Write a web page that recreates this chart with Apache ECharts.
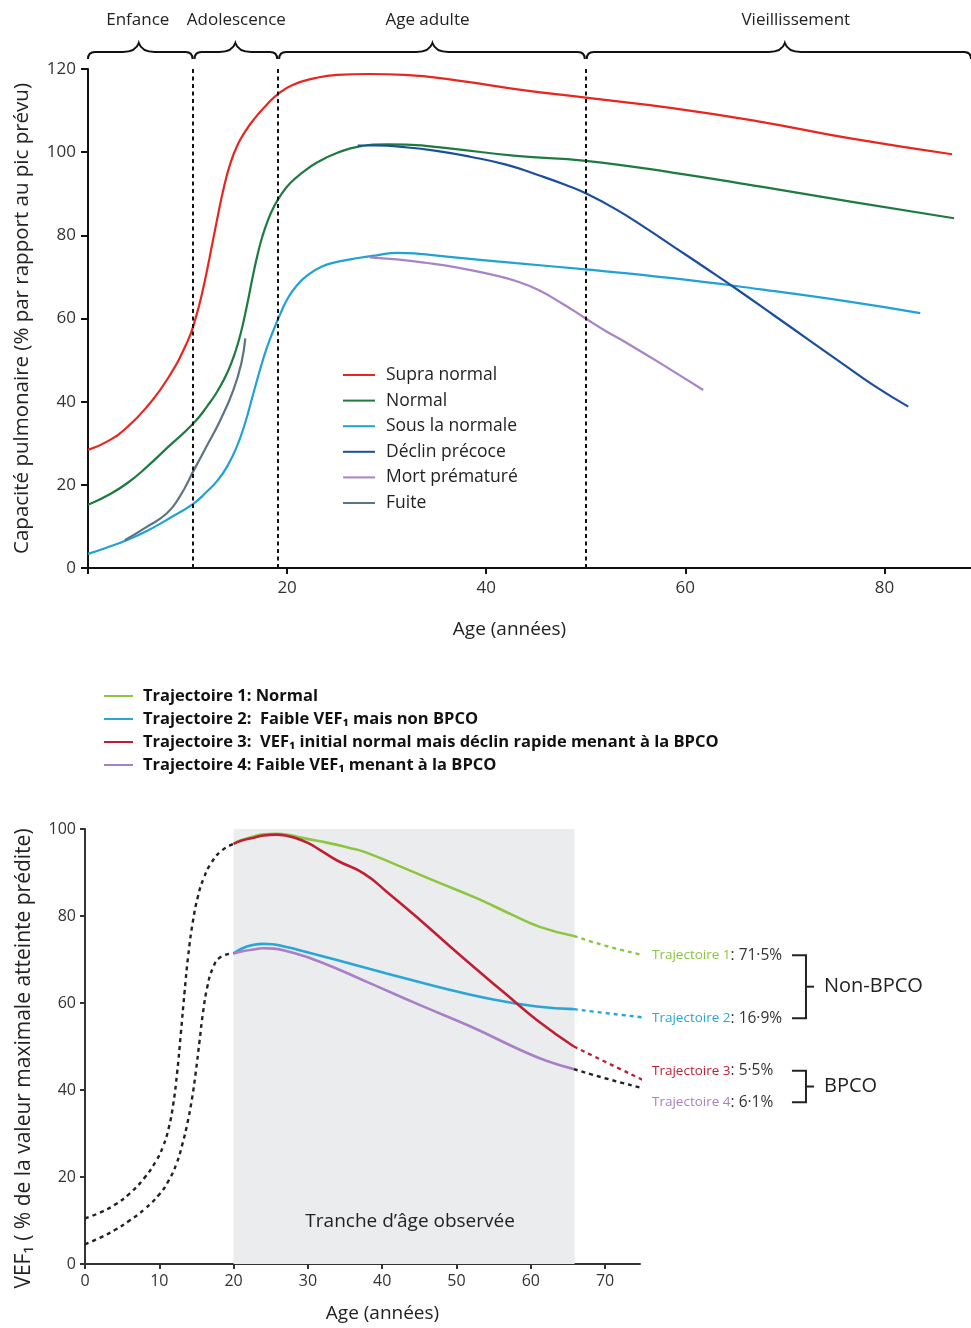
<!DOCTYPE html>
<html>
<head>
<meta charset="utf-8">
<script src="https://cdn.jsdelivr.net/npm/echarts@6/dist/echarts.min.js"></script>
<style>
  html, body { margin: 0; padding: 0; background: #fff; }
  #chart { width: 971px; height: 1328px; }
</style>
</head>
<body>
<div id="chart"></div>
<script>
  // ---- panneau du haut : capacité pulmonaire selon l'âge
  var phaseNames = ['Enfance', 'Adolescence', 'Age adulte', 'Vieillissement']
  var phaseBounds = [[0, 10.5], [10.7, 19], [19.2, 49.9], [50.1, 88.7]]
  var phaseCusp = [5.1, 14.8, 34.6, 70]
  var phaseTextAt = [5.0, 14.9, 34.1, 71.1]
  var phaseDividers = [10.5, 19.1, 50]
  var topTicks = [0, 20, 40, 60, 80]

  var supraNormal = [[0, 28.4], [2, 30.5], [4, 34], [6, 39], [8, 45.5], [10, 54.5], [10.8, 60], [11.5, 66.5],
    [12.2, 74.5], [12.9, 83], [13.6, 91], [14.3, 97.3], [15, 101.6], [15.8, 105], [16.7, 108], [17.8, 111],
    [19.1, 114], [20.5, 116.1], [22.8, 117.8], [25, 118.6], [28.2, 118.8], [31.8, 118.6], [37.2, 117.2],
    [43.5, 115], [50, 113.1], [58.7, 110.6], [67.6, 107.3], [76.6, 103.3], [86.8, 99.5]]
  var normal = [[0, 15.2], [2, 17.5], [4, 20.5], [6, 24.5], [8, 29], [10.6, 34.8], [12, 39], [13, 42.5],
    [14, 47], [14.8, 52], [15.4, 57], [16, 63.5], [16.5, 69.5], [17, 75], [17.5, 79.6], [18.1, 83.8],
    [18.7, 87], [19.4, 89.8], [20.3, 92.5], [21.5, 95], [23, 97.5], [25, 99.8], [27.3, 101.4], [30, 101.9],
    [32, 101.8], [36.3, 100.9], [43, 99.1], [50, 97.9], [58.7, 95.1], [67.6, 91.7], [76.6, 88.1], [87, 84.1]]
  var sousNormale = [[0, 3.4], [2, 5], [4, 6.8], [6, 9], [8, 11.7], [10.6, 15.5], [12, 18.5], [13, 21],
    [14, 24.5], [15, 29.5], [15.8, 35], [16.5, 41], [17.2, 47], [17.9, 52.5], [18.6, 57], [19.3, 61],
    [20.1, 65], [21, 68], [22, 70.3], [23.5, 72.5], [25, 73.6], [27.3, 74.6], [29, 75.2], [31.1, 75.8],
    [33, 75.6], [36.3, 74.8], [43, 73.3], [50, 71.8], [58.7, 69.7], [67.6, 67], [76.6, 64], [83.6, 61.3]]
  var declinPrecoce = [[27.1, 101.6], [29, 101.6], [31.8, 101.2], [35, 100.3], [38.4, 98.9], [42, 97],
    [45.2, 94.5], [48, 92.1], [50, 90.1], [53, 86.3], [56, 81.8], [59, 77], [62, 72.2], [65.5, 66.5],
    [69, 60.6], [72.5, 54.7], [76, 48.8], [79, 43.8], [82.4, 38.8]]
  var mortPremature = [[28.3, 74.7], [31, 74.2], [33.9, 73.4], [37, 72.3], [40.7, 70.5], [43, 69],
    [45.2, 66.9], [47.5, 63.8], [50, 60], [52, 57], [54.2, 54], [58, 48.5], [61.8, 42.8]]
  var fuite = [[3.7, 6.7], [5.9, 9.9], [7.9, 13.1], [9.2, 17.1], [10.65, 23.6], [11.9, 29.2], [13.3, 35.6],
    [14.6, 42.8], [15.4, 49.2], [15.8, 55.2]]

  // ---- panneau du bas : trajectoires du VEF1
  var bottomTicks = [0, 10, 20, 30, 40, 50, 60, 70]
  var observedRange = [20, 65.9]
  var traj1 = [[20, 96.6], [21, 97.4], [22.7, 98.3], [24, 98.8], [25.8, 98.9], [27.5, 98.6], [29.4, 97.9],
    [33, 96.7], [35.5, 95.7], [37.5, 94.8], [42, 91.7], [47.3, 87.9], [52.7, 84.1], [57.6, 80.2],
    [61.2, 77.5], [65.8, 75.4]]
  var traj2 = [[20, 71.4], [21.2, 72.6], [22.5, 73.3], [24, 73.6], [25.2, 73.5], [26.8, 73], [28.5, 72.3],
    [33.9, 69.9], [40.6, 66.8], [47.3, 63.8], [54.1, 61.1], [60.8, 59.2], [65.8, 58.6]]
  var traj3 = [[20, 96.6], [21, 97.3], [22.7, 98], [24, 98.5], [25.8, 98.7], [27, 98.5], [28, 98.1],
    [30, 96.8], [31.6, 95.2], [34, 92.7], [37.5, 89.8], [40.6, 85.6], [45.1, 79.1], [49.6, 72.3],
    [54.1, 65.7], [56.6, 62.1], [60.8, 56.1], [65.8, 50]]
  var traj4 = [[20, 71.4], [21.5, 72], [22.7, 72.3], [24, 72.6], [25.4, 72.5], [27.2, 71.9], [31.6, 69.5],
    [38.4, 64.5], [45.1, 59.5], [51.9, 54.6], [58.6, 49.2], [62, 46.8], [65.8, 44.8]]
  var traj1Ext = [[65.8, 75.4], [70, 73.2], [75.1, 71]]
  var traj2Ext = [[65.8, 58.6], [70, 57.7], [75.1, 56.7]]
  var traj3Ext = [[65.8, 50], [70, 46.5], [75.1, 42.3]]
  var traj4Ext = [[65.8, 44.8], [70, 42.7], [75.1, 40.4]]
  var earlyHigh = [[0, 10.5], [2, 11.8], [4, 13.6], [6, 16.2], [8, 19.8], [9.5, 23.5], [10.5, 27],
    [11.3, 31.5], [11.9, 37], [12.4, 44], [12.9, 53], [13.4, 62.5], [13.9, 71], [14.5, 78.5], [15.2, 84.5],
    [16, 88.8], [17, 92.2], [18.3, 94.9], [20, 96.6]]
  var earlyLow = [[0, 4.5], [2, 6], [4, 7.8], [6, 10], [8, 12.6], [10, 16], [11.3, 19.3], [12.3, 23],
    [13.1, 27.5], [13.8, 32.5], [14.4, 38], [14.9, 44], [15.4, 51], [15.9, 58], [16.5, 64], [17.2, 68],
    [18.2, 70.5], [20, 71.4]]

  var trajNames = ['Trajectoire 1', 'Trajectoire 2', 'Trajectoire 3', 'Trajectoire 4']
  var trajShares = ['71·5%', '16·9%', '5·5%', '6·1%']
  var trajLabelY = [71, 56.5, 44.4, 37.2]
  var groupNames = ['Non-BPCO', 'BPCO']
  var groupTop = [71, 44.4]
  var groupBottom = [56.5, 37.2]

  var trajColors = ['#8cc540', '#29a6d6', '#c01f33', '#a97fc5']
  var font = 'Open Sans'

  function renderBrace (params, api) {
    var i = params.dataIndex
    var p1 = api.coord([api.value(0), api.value(4)])
    var p2 = api.coord([api.value(1), api.value(4)])
    var pm = api.coord([api.value(2), api.value(4)])
    var pt = api.coord([api.value(3), api.value(4)])
    var x1 = p1[0]
    var x2 = p2[0]
    var xm = pm[0]
    var y = p1[1] - 17
    var d = 'M' + x1 + ' ' + (y + 7) + ' Q' + x1 + ' ' + y + ' ' + (x1 + 7) + ' ' + y +
      ' L' + (xm - 16) + ' ' + y + ' Q' + (xm - 3) + ' ' + y + ' ' + xm + ' ' + (y - 9) +
      ' Q' + (xm + 3) + ' ' + y + ' ' + (xm + 16) + ' ' + y +
      ' L' + (x2 - 7) + ' ' + y + ' Q' + x2 + ' ' + y + ' ' + x2 + ' ' + (y + 7)
    return {
      type: 'group',
      children: [
        { type: 'path', shape: { pathData: d }, style: { fill: 'none', stroke: '#111', lineWidth: 2 } },
        {
          type: 'text', x: pt[0], y: y - 32,
          style: { text: phaseNames[i], fill: '#222', fontSize: 17, fontFamily: font, align: 'center', verticalAlign: 'middle' }
        }
      ]
    }
  }

  function renderTrajLabel (params, api) {
    var i = params.dataIndex
    var p = api.coord([api.value(0), api.value(1)])
    return {
      type: 'text', x: p[0] + 9, y: p[1],
      style: {
        text: '{n|' + trajNames[i] + '}{p|: ' + trajShares[i] + '}',
        verticalAlign: 'middle',
        rich: {
          n: { fill: trajColors[i], fontSize: 13.5, fontFamily: font },
          p: { fill: '#333', fontSize: 15.5, fontFamily: font }
        }
      }
    }
  }

  function renderBracket (params, api) {
    var i = params.dataIndex
    var a = api.coord([api.value(0), api.value(1)])
    var b = api.coord([api.value(0), api.value(2)])
    var xl = a[0] + 149
    var xv = a[0] + 163
    var ym = (a[1] + b[1]) / 2
    var ls = { stroke: '#222', lineWidth: 2, fill: 'none' }
    return {
      type: 'group',
      children: [
        { type: 'polyline', shape: { points: [[xl, a[1]], [xv, a[1]], [xv, b[1]], [xl, b[1]]] }, style: ls },
        { type: 'line', shape: { x1: xv, y1: ym, x2: xv + 8, y2: ym }, style: ls },
        {
          type: 'text', x: xv + 18, y: ym,
          style: { text: groupNames[i], fill: '#222', fontSize: 20, fontFamily: font, verticalAlign: 'middle' }
        }
      ]
    }
  }

  function topLine (name, data, color) {
    return {
      name: name, type: 'line', xAxisIndex: 0, yAxisIndex: 0, data: data, color: color,
      smooth: 0.5, symbol: 'none', z: 3,
      lineStyle: { color: color, width: 2.2 }
    }
  }

  function bottomLine (name, data, color, dashed) {
    return {
      name: name, type: 'line', xAxisIndex: 1, yAxisIndex: 1, data: data, color: color,
      smooth: 0.5, symbol: 'none', z: 3, clip: false,
      lineStyle: { color: color, width: dashed ? 2.4 : 2.6, type: dashed ? [4, 4] : 'solid' }
    }
  }

  var axisText = { color: '#333', fontSize: 17, fontFamily: font }

  var myChart = echarts.init(document.getElementById('chart'))
  var option = {
    backgroundColor: '#fff',
    animation: false,
    grid: [
      { left: 88, right: 0, top: 69, bottom: 760 },
      { left: 85, right: 331, top: 829, bottom: 64 }
    ],
    legend: [
      {
        data: ['Supra normal', 'Normal', 'Sous la normale', 'Déclin précoce', 'Mort prématuré', 'Fuite'],
        orient: 'vertical', left: 343, top: 365, padding: 0, icon: 'rect', itemWidth: 32, itemHeight: 2, itemGap: 5.6,
        textStyle: { color: '#222', fontSize: 17.5, fontFamily: font, lineHeight: 20, padding: [0, 0, 0, 6] }
      },
      {
        data: ['Trajectoire 1: Normal', 'Trajectoire 2:  Faible VEF₁ mais non BPCO',
          'Trajectoire 3:  VEF₁ initial normal mais déclin rapide menant à la BPCO',
          'Trajectoire 4: Faible VEF₁ menant à la BPCO'],
        orient: 'vertical', left: 104, top: 687, padding: 0, icon: 'rect', itemWidth: 29, itemHeight: 2, itemGap: 5,
        textStyle: { color: '#111', fontSize: 16.5, fontWeight: 'bold', fontFamily: font, lineHeight: 18, padding: [0, 0, 0, 5] }
      }
    ],
    xAxis: [
      {
        gridIndex: 0, type: 'value', min: 0, max: 88.7,
        name: 'Age (années)', nameLocation: 'middle', nameGap: 52,
        nameTextStyle: { color: '#222', fontSize: 19, fontFamily: font, padding: [0, 40, 0, 0] },
        axisLine: { lineStyle: { color: '#111', width: 2 } },
        axisTick: { customValues: topTicks, length: 6, lineStyle: { color: '#111', width: 2 } },
        axisLabel: { customValues: topTicks.slice(1), margin: 12, ...axisText },
        splitLine: { show: false }
      },
      {
        gridIndex: 1, type: 'value', min: 0, max: 74.7,
        name: 'Age (années)', nameLocation: 'middle', nameGap: 40,
        nameTextStyle: { color: '#222', fontSize: 19, fontFamily: font, padding: [0, 0, 0, 40] },
        axisLine: { lineStyle: { color: '#333', width: 2 } },
        axisTick: { customValues: bottomTicks, length: 5, lineStyle: { color: '#333', width: 2 } },
        axisLabel: { customValues: bottomTicks, margin: 9, ...axisText, fontSize: 16 },
        splitLine: { show: false }
      }
    ],
    yAxis: [
      {
        gridIndex: 0, type: 'value', min: 0, max: 120, interval: 20,
        name: 'Capacité pulmonaire (% par rapport au pic prévu)', nameLocation: 'middle', nameGap: 55,
        nameTextStyle: { color: '#222', fontSize: 20.5, fontFamily: font },
        axisLine: { show: true, lineStyle: { color: '#111', width: 2 } },
        axisTick: { show: true, length: 7, lineStyle: { color: '#111', width: 2 } },
        axisLabel: { margin: 12, ...axisText },
        splitLine: { show: false }
      },
      {
        gridIndex: 1, type: 'value', min: 0, max: 100, interval: 20,
        name: 'VEF₁ ( % de la valeur maximale atteinte prédite)', nameLocation: 'middle', nameGap: 50,
        nameTextStyle: { color: '#222', fontSize: 21, fontFamily: font, padding: [0, 24, 0, 0] },
        axisLine: { show: true, lineStyle: { color: '#333', width: 2 } },
        axisTick: { show: true, length: 5, lineStyle: { color: '#333', width: 2 } },
        axisLabel: { margin: 9, ...axisText, fontSize: 16 },
        splitLine: { show: false }
      }
    ],
    series: [
      {
        type: 'custom', xAxisIndex: 0, yAxisIndex: 0, clip: false, silent: true, z: 5,
        renderItem: renderBrace,
        encode: { x: [0, 1, 2, 3], y: 4 },
        data: phaseBounds.map(function (b, i) { return [b[0], b[1], phaseCusp[i], phaseTextAt[i], 120] })
      },
      Object.assign(topLine('Supra normal', supraNormal, '#e8261f'), {
        markLine: {
          silent: true, symbol: 'none', label: { show: false },
          lineStyle: { color: '#111', width: 2, type: [4, 3.5] },
          data: phaseDividers.map(function (v) { return { xAxis: v } })
        }
      }),
      topLine('Normal', normal, '#1e7b40'),
      topLine('Sous la normale', sousNormale, '#20a2d4'),
      topLine('Déclin précoce', declinPrecoce, '#1c4e9e'),
      topLine('Mort prématuré', mortPremature, '#a883c6'),
      topLine('Fuite', fuite, '#5b7483'),

      {
        name: 'zone', type: 'line', xAxisIndex: 1, yAxisIndex: 1, data: [], z: 1,
        markArea: {
          silent: true,
          itemStyle: { color: '#ebecee' },
          label: {
            show: true, position: 'insideBottom', distance: 33, color: '#222', fontSize: 19, fontFamily: font,
            padding: [0, 0, 0, 12]
          },
          data: [[{ xAxis: observedRange[0], name: 'Tranche d’âge observée' }, { xAxis: observedRange[1] }]]
        }
      },
      bottomLine('Trajectoire 1: Normal', traj1, trajColors[0]),
      bottomLine('Trajectoire 2:  Faible VEF₁ mais non BPCO', traj2, trajColors[1]),
      bottomLine('Trajectoire 3:  VEF₁ initial normal mais déclin rapide menant à la BPCO', traj3, trajColors[2]),
      bottomLine('Trajectoire 4: Faible VEF₁ menant à la BPCO', traj4, trajColors[3]),
      bottomLine('ext1', traj1Ext, trajColors[0], true),
      bottomLine('ext2', traj2Ext, trajColors[1], true),
      bottomLine('ext3', traj3Ext, trajColors[2], true),
      bottomLine('ext4', traj4Ext, '#222', true),
      bottomLine('early1', earlyHigh, '#222', true),
      bottomLine('early2', earlyLow, '#222', true),
      {
        type: 'custom', xAxisIndex: 1, yAxisIndex: 1, clip: false, silent: true, z: 5,
        renderItem: renderTrajLabel,
        encode: { x: 0, y: 1 },
        data: trajLabelY.map(function (v) { return [75.1, v] })
      },
      {
        type: 'custom', xAxisIndex: 1, yAxisIndex: 1, clip: false, silent: true, z: 5,
        renderItem: renderBracket,
        encode: { x: 0, y: [1, 2] },
        data: groupTop.map(function (v, i) { return [75.1, v, groupBottom[i]] })
      }
    ]
  }
  myChart.setOption(option)
</script>
</body>
</html>
